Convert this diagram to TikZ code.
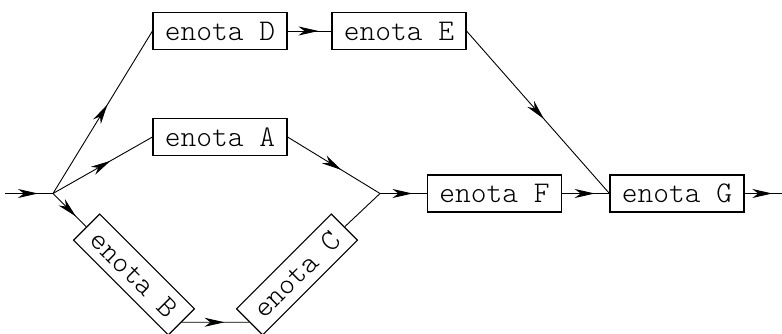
\documentclass[tikz,border=0pt]{standalone}
\usetikzlibrary{arrows.meta,decorations.markings}
\begin{document}
\begin{tikzpicture}[x=1pt,y=-1pt,
  enota/.style={draw, line width=1.1pt, minimum width=134pt, minimum height=37pt, inner sep=0pt, font=\fontsize{30}{36}\ttfamily\fontseries{l}\selectfont},
  flow/.style={line width=0.9pt, postaction={decorate}, decoration={markings,
     mark=at position 0.5 with {\pgftransformxshift{9pt}\arrow{Stealth[length=20pt,width=9pt,inset=6pt]}}}}]
\useasboundingbox (0,0) rectangle (782,334);
\node[enota] (D) at (220,31) {enota D};
\node[enota] (E) at (399,31) {enota E};
\node[enota] (A) at (220,137) {enota A};
\node[enota] (F) at (494.5,193.5) {enota F};
\node[enota] (G) at (677,193.5) {enota G};
\node[enota, rotate=-45] (B) at (134,274.5) {enota B};
\node[enota, rotate=45] (C) at (297,274.5) {enota C};
\coordinate (in) at (5,193.5);
\coordinate (S) at (53,193.5);
\coordinate (J) at (380,193.5);
\coordinate (out) at (782,193.5);
\draw[flow] (in) -- (S);
\draw[flow] (S) -- (D.west);
\draw[flow] (S) -- (A.west);
\draw[flow] (S) -- (B.west);
\draw[flow] (D.east) -- (E.west);
\draw[flow] (E.east) -- (G.west);
\draw[flow] (A.east) -- (J);
\draw[flow] (B.east) -- (C.west);
\draw[line width=0.9pt] (C.east) -- (J);
\draw[flow] (J) -- (F.west);
\draw[flow] (F.east) -- (G.west);
\draw[flow] (G.east) -- (out);
\end{tikzpicture}
\end{document}
